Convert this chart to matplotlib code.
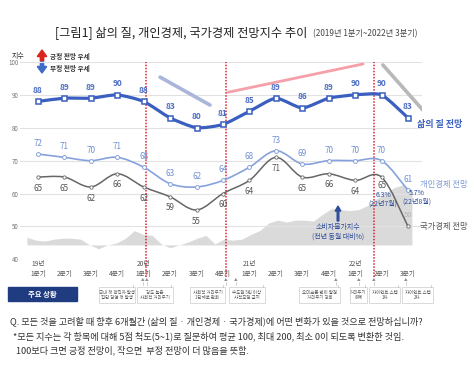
import numpy as np
import matplotlib
matplotlib.use('Agg')
import matplotlib.pyplot as plt
from matplotlib.path import Path
from matplotlib.patches import PathPatch, Rectangle, FancyArrow

plt.rcParams['font.family'] = ['Noto Sans CJK KR', 'DejaVu Sans']

quarters = ['19년\n1분기', '\n2분기', '\n3분기', '\n4분기',
            '20년\n1분기', '\n2분기', '\n3분기', '\n4분기',
            '21년\n1분기', '\n2분기', '\n3분기', '\n4분기',
            '22년\n1분기', '\n2분기', '\n3분기']
life = [88, 89, 89, 90, 88, 83, 80, 81, 85, 89, 86, 89, 90, 90, 83]
personal = [72, 71, 70, 71, 68, 63, 62, 64, 68, 73, 69, 70, 70, 70, 61]
national = [65, 65, 62, 66, 62, 59, 55, 60, 64, 71, 65, 66, 64, 65, 50]

# 소비자물가지수, 전년 동월 대비 % (2019.1 ~ 2022.8)
cpi = [0.8, 0.5, 0.4, 0.6, 0.7, 0.7, 0.6, 0.0, -0.4, 0.0, 0.2, 0.7,
       1.5, 1.1, 1.0, 0.1, -0.3, 0.0, 0.3, 0.7, 1.0, 0.1, 0.6, 0.5,
       0.6, 1.1, 1.5, 2.3, 2.6, 2.4, 2.6, 2.6, 2.5, 3.2, 3.8, 3.7,
       3.6, 3.7, 4.1, 4.8, 5.4, 6.0, 6.3, 5.7]

event_lines = [4.07, 7.12, 12.72]
event_marks = [3.97, 4.12, 7.11, 7.49, 11.27, 12.15, 12.71, 13.92]
event_texts = ['국내 첫 확진자 발생\n집단 감염 첫 발생', '강도 높은\n사회적 거리두기',
               '사회적 거리두기\n1단계로 완화', '수도권 5인 이상\n사적모임 금지',
               '오미크론 변이 발견\n거리두기 강화', '거리두기\n해제',
               '자이언트 스텝\n1차', '자이언트 스텝\n2차']
event_boxes = [(99, 135), (137, 173), (190, 225), (229, 265),
               (299, 340), (350, 367), (369, 400), (402, 433)]

W, H = 474, 365


def fx(x):
    return x / W


def fy(y):
    return 1 - y / H


def smooth_path(xs, ys, k=1.0):
    pts = np.column_stack([xs, ys]).astype(float)
    verts = [pts[0]]
    codes = [Path.MOVETO]
    n = len(pts)
    for i in range(n - 1):
        p0 = pts[max(i - 1, 0)]
        p1 = pts[i]
        p2 = pts[i + 1]
        p3 = pts[min(i + 2, n - 1)]
        verts += [p1 + k * (p2 - p0) / 6, p2 - k * (p3 - p1) / 6, p2]
        codes += [Path.CURVE4] * 3
    return Path(verts, codes)


fig = plt.figure(figsize=(W / 100, H / 100), dpi=100)
ax = fig.add_axes([fx(20), fy(259.3), fx(402), (259.3 - 62) / H])
ax2 = ax.twinx()
ax.set_zorder(2)
ax.patch.set_visible(False)

x = np.arange(len(quarters))

# CPI area
mx = -0.416 + 0.3387 * np.arange(len(cpi))
ax2.fill_between(mx, cpi, 0, color='#dadada', lw=0)
ax2.set_ylim((40 - 44.37) / 2.9, (100 - 44.37) / 2.9)
ax2.axis('off')

ax.set_xlim(-0.68, 14.53)
ax.set_ylim(40, 100)
ax.set_yticks(range(40, 101, 10))
ax.grid(axis='y', color='#e2e2e2', lw=0.8)
ax.set_axisbelow(True)
for s in ax.spines.values():
    s.set_visible(False)
ax.tick_params(axis='y', length=0, labelsize=4.5, labelcolor='#777777', pad=1)
ax.set_xticks(x)
ax.set_xticklabels(quarters, fontsize=4.8, color='#555555', linespacing=1.3)
ax.tick_params(axis='x', length=0, pad=0.5)

# trend strokes
ax.plot([4.62, 6.51], [95.4, 86.9], color='#aab5da', lw=2.6, solid_capstyle='round', zorder=1)
ax.plot([7.19, 12.3], [90.8, 99.4], color='#f5a0a8', lw=2.0, solid_capstyle='round', zorder=1)
ax.plot([13.05, 14.57], [99.1, 85.3], color='#b8b8b8', lw=2.6, solid_capstyle='round', zorder=1)

# event lines
for ex in event_lines:
    ax.plot([ex, ex], [34.6, 100], color='#e0202a', lw=1.1, ls=(0, (1, 1)),
            clip_on=False, zorder=3)

c_life, c_pers, c_nat = '#3a5fc0', '#86a2dc', '#666666'

ax.add_patch(PathPatch(smooth_path(x, national), fc='none', ec=c_nat, lw=1.1, zorder=4))
ax.plot(x, national, ls='none', marker='o', ms=2.4, mfc='white', mec=c_nat, mew=0.6, zorder=5)
ax.add_patch(PathPatch(smooth_path(x, personal), fc='none', ec=c_pers, lw=1.2, zorder=4))
ax.plot(x, personal, ls='none', marker='o', ms=2.8, mfc='white', mec=c_pers, mew=0.7, zorder=5)
ax.add_patch(PathPatch(smooth_path(x, life, 0.6), fc='none', ec=c_life, lw=2.3,
                       capstyle='round', joinstyle='round', zorder=6))
ax.plot(x, life, ls='none', marker='s', ms=3.6, mfc='white', mec=c_life, mew=1.1, zorder=7)

for i in range(len(x)):
    ax.annotate(str(life[i]), (x[i], life[i]), xytext=(0, 8), textcoords='offset points',
                ha='center', va='center', fontsize=6, color='#4a6cc4', fontweight='bold', zorder=8)
    ax.annotate(str(personal[i]), (x[i], personal[i]), xytext=(0, 7.5), textcoords='offset points',
                ha='center', va='center', fontsize=5.8, color='#6f8fd2', zorder=8)
    if i < len(x) - 1:
        dy = -6 if i == len(x) - 2 else -8
        ax.annotate(str(national[i]), (x[i], national[i]), xytext=(0, dy), textcoords='offset points',
                    ha='center', va='center', fontsize=5.8, color='#555555', zorder=8)
ax.annotate(str(national[-1]), (x[-1], national[-1]), xytext=(0, 8), textcoords='offset points',
            ha='center', va='center', fontsize=5.5, color='#b5b5b5', zorder=8)

# series labels
fig.text(fx(417), fy(125), '삶의 질 전망', fontsize=6.5, color=c_life, fontweight='bold', va='center')
fig.text(fx(420), fy(185), '개인경제 전망', fontsize=6, color='#7e9bd6', va='center')
fig.text(fx(420), fy(227), '국가경제 전망', fontsize=6, color='#555555', va='center')

# cpi notes
c_note = '#2d4d9a'
fig.text(fx(383), fy(199), '6.3%\n(22년7월)', fontsize=5, color=c_note, ha='center', va='center',
         linespacing=1.05, zorder=9)
fig.text(fx(417), fy(197), '5.7%\n(22년8월)', fontsize=5, color=c_note, ha='center', va='center',
         linespacing=1.05, zorder=9)
fig.text(fx(338), fy(232), '소비자물가지수\n(전년 동월 대비%)', fontsize=5, color=c_note,
         ha='center', va='center', linespacing=1.2)
fig.patches.append(FancyArrow(fx(338), fy(221), 0, fy(206) - fy(221), width=0.0035,
                              head_width=0.012, head_length=0.014, length_includes_head=True,
                              color=c_note, transform=fig.transFigure, figure=fig))

# legend
fig.text(fx(12), fy(56), '지수', fontsize=5, color='#333333', va='center')
fig.patches.append(FancyArrow(fx(42), fy(61), 0, fy(50) - fy(61), width=0.007,
                              head_width=0.02, head_length=0.018, length_includes_head=True,
                              color='#d9241c', transform=fig.transFigure, figure=fig))
fig.patches.append(FancyArrow(fx(42), fy(62), 0, fy(73) - fy(62), width=0.007,
                              head_width=0.02, head_length=0.018, length_includes_head=True,
                              color='#3d6cc8', transform=fig.transFigure, figure=fig))
fig.text(fx(50), fy(56), '긍정 전망 우세', fontsize=4.8, color='#333333', va='center', fontweight='bold')
fig.text(fx(50), fy(68), '부정 전망 우세', fontsize=4.8, color='#333333', va='center', fontweight='bold')

# title
fig.text(fx(55), fy(33), '[그림1] 삶의 질, 개인경제, 국가경제 전망지수 추이', fontsize=8.8,
         color='#222222', va='center', fontweight='medium')
fig.text(fx(313), fy(34), '(2019년 1분기~2022년 3분기)', fontsize=5.9, color='#444444', va='center')

# events row
fig.patches.append(Rectangle((fx(8), fy(301)), fx(69), fy(287) - fy(301), color='#203c80',
                             transform=fig.transFigure, figure=fig))
fig.text(fx(42.5), fy(294), '주요 상황', fontsize=5.3, color='white', ha='center', va='center',
         fontweight='bold')
for ex in event_marks:
    px = 38 + ex * 26.43
    fig.lines.append(plt.Line2D([fx(px), fx(px)], [fy(282), fy(285)], color='#aaaaaa', lw=0.4,
                                transform=fig.transFigure, figure=fig))
    fig.text(fx(px), fy(280.5), '▲', fontsize=2.6, color='#888888', ha='center', va='center')
for (x0, x1), t in zip(event_boxes, event_texts):
    fig.patches.append(Rectangle((fx(x0), fy(303)), fx(x1 - x0), fy(287) - fy(303), fc='white',
                                 ec='#cccccc', lw=0.5, transform=fig.transFigure, figure=fig))
    fig.lines.append(plt.Line2D([fx(x1 - 2), fx(x1 - 2)], [fy(285), fy(287)], color='#aaaaaa', lw=0.4,
                                transform=fig.transFigure, figure=fig))
    fig.text(fx((x0 + x1) / 2), fy(295), t, fontsize=3.2, color='#555555', ha='center', va='center',
             linespacing=1.2)

# footnotes
fig.text(fx(10), fy(321.5), 'Q. 모든 것을 고려할 때 향후 6개월간 (삶의 질 · 개인경제 · 국가경제)에 어떤 변화가 있을 것으로 전망하십니까?',
         fontsize=6.6, color='#333333', va='center')
fig.text(fx(13), fy(336.5), '*모든 지수는 각 항목에 대해 5점 척도(5~1)로 질문하여 평균 100, 최대 200, 최소 0이 되도록 변환한 것임.',
         fontsize=6.6, color='#333333', va='center')
fig.text(fx(16), fy(350.5), '100보다 크면 긍정 전망이, 작으면  부정 전망이 더 많음을 뜻함.',
         fontsize=6.6, color='#333333', va='center')

fig.savefig('out.png', dpi=100)
